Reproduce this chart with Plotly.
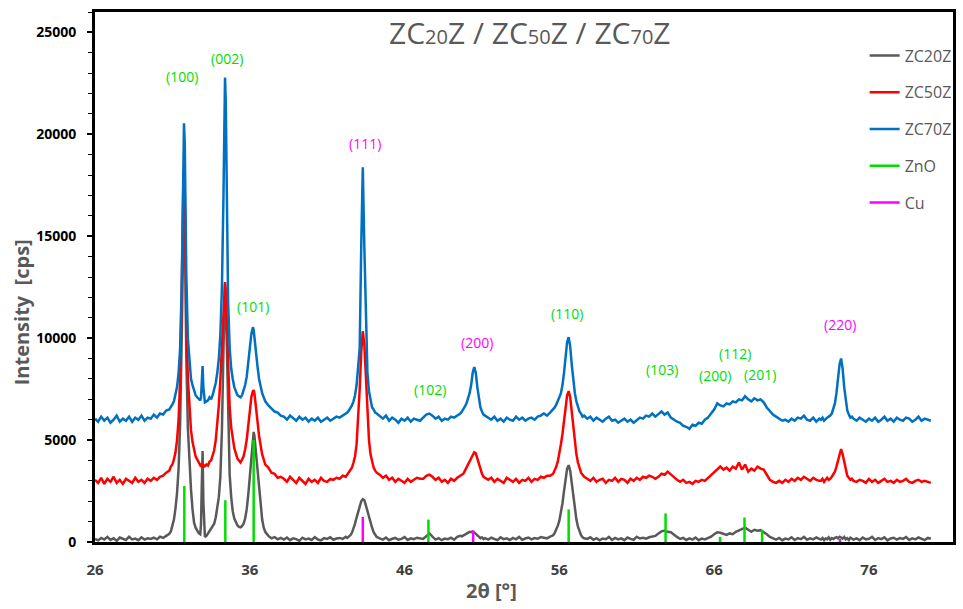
import plotly.graph_objects as go

# ---------------------------------------------------------------------------
# XRD scans: shared 2-theta sampling (degrees), split by angular region
# ---------------------------------------------------------------------------
two_theta_r1 = [26.0, 26.2, 26.4, 26.6, 26.8, 27.0, 27.2, 27.4, 27.6, 27.8, 28.0, 28.2,
                28.4, 28.6, 28.8, 29.0, 29.2, 29.4, 29.6, 29.8, 30.0, 30.2, 30.4, 30.6]
two_theta_r2 = [30.8, 30.9, 31.0, 31.1, 31.2, 31.3, 31.4, 31.5, 31.6, 31.65,
                31.7, 31.75, 31.8, 31.85, 31.9, 32.0, 32.1, 32.2, 32.3, 32.4,
                32.5, 32.6, 32.7, 32.8, 32.85, 32.9, 32.95, 33.0, 33.05, 33.1,
                33.2, 33.3, 33.4, 33.5, 33.6, 33.7, 33.8, 33.9, 34.0, 34.1,
                34.2, 34.3, 34.35, 34.4, 34.45, 34.5, 34.55, 34.6, 34.7, 34.8,
                34.9, 35.0, 35.1, 35.2, 35.3, 35.4, 35.5, 35.6, 35.7, 35.8,
                35.9, 36.0, 36.1, 36.2, 36.25, 36.3, 36.4, 36.5, 36.6, 36.7,
                36.8, 36.9, 37.0, 37.2, 37.4, 37.6, 37.8, 38.0]
two_theta_r3 = [38.2, 38.4, 38.6, 38.8, 39.0, 39.2, 39.4, 39.6, 39.8, 40.0, 40.2, 40.4,
                40.6, 40.8, 41.0, 41.2, 41.4, 41.6, 41.8, 42.0, 42.2,
                42.3, 42.4, 42.5, 42.6, 42.7, 42.8, 42.9, 43.0, 43.1, 43.2,
                43.3, 43.4, 43.5, 43.6, 43.7, 43.8, 43.9, 44.0, 44.1, 44.2,
                44.4, 44.6, 44.8, 45.0, 45.2, 45.4, 45.6, 45.8, 46.0, 46.2,
                46.4, 46.6, 46.8, 47.0]
two_theta_r4 = [47.2, 47.4, 47.6, 47.8, 48.0, 48.2, 48.4, 48.6, 48.8, 49.0, 49.2, 49.4, 49.6,
                49.7, 49.8, 49.9, 50.0, 50.1, 50.2, 50.3, 50.4, 50.5, 50.6, 50.7, 50.8,
                50.9, 51.0, 51.1, 51.2,
                51.4, 51.6, 51.8, 52.0, 52.2, 52.4, 52.6, 52.8, 53.0, 53.2, 53.4,
                53.6, 53.8, 54.0, 54.2, 54.4, 54.6, 54.8, 55.0, 55.2, 55.4, 55.6,
                55.7, 55.8, 55.9, 56.0, 56.1, 56.2, 56.3, 56.4, 56.5, 56.6,
                56.7, 56.8, 56.9, 57.0, 57.1, 57.2, 57.3, 57.4, 57.5, 57.6,
                57.8, 58.0, 58.2, 58.4, 58.6, 58.8, 59.0, 59.2, 59.4, 59.6, 59.8,
                60.0, 60.2, 60.4, 60.6, 60.8, 61.0, 61.2, 61.4, 61.6, 61.8, 62.0]
two_theta_r5 = [62.2, 62.4, 62.6, 62.8, 63.0, 63.2, 63.4, 63.6, 63.8, 64.0,
                64.2, 64.4, 64.6, 64.8, 65.0, 65.2, 65.4, 65.6, 65.8, 66.0,
                66.2, 66.4, 66.6, 66.8, 67.0, 67.2, 67.4, 67.6, 67.8, 68.0,
                68.2, 68.4, 68.6, 68.8, 69.0, 69.2, 69.4, 69.6, 69.8, 70.0,
                70.2, 70.4, 70.6, 70.8, 71.0, 71.2, 71.4, 71.6, 71.8, 72.0,
                72.2, 72.4, 72.6, 72.8,
                72.9, 73.0, 73.1, 73.2, 73.3, 73.4, 73.5, 73.6, 73.7, 73.8, 73.9,
                74.0, 74.1, 74.2, 74.3, 74.4, 74.5, 74.6, 74.7, 74.8, 74.9, 75.0,
                75.2, 75.4, 75.6, 75.8, 76.0, 76.2, 76.4, 76.6, 76.8, 77.0, 77.2,
                77.4, 77.6, 77.8, 78.0, 78.2, 78.4, 78.6, 78.8, 79.0, 79.2, 79.4,
                79.6, 79.8, 80.0]

# ZC20Z intensity (cps)
zc20z_r1 = [150, 80, 200, 120, 250, 100, 180, 60, 220, 140, 100, 260, 130, 170, 90, 230,
            120, 180, 150, 210, 130, 260, 200, 300]
zc20z_r2 = [400, 520, 760, 1100, 1650, 2400, 3600, 5800, 10000, 13500,
            16500, 17500, 16000, 12500, 9000, 5600, 3800, 2600, 1600, 950,
            700, 520, 430, 380, 900, 2800, 4460, 2000, 550, 250,
            300, 420, 500, 600, 750, 900, 1200, 1600, 2200, 3200,
            5500, 9500, 12000, 12600, 12000, 10000, 7500, 5500, 3300, 2200,
            1500, 1150, 950, 820, 740, 720, 780, 900, 1150, 1600,
            2300, 3200, 4400, 5250, 5400, 5200, 4400, 3400, 2500, 1700,
            1100, 700, 500, 300, 180, 240, 130, 200]
zc20z_r3 = [120, 220, 90, 180, 140, 60, 210, 130, 170, 100, 240, 120, 80, 190, 150, 230,
            110, 170, 200, 150, 260,
            200, 260, 330, 450, 650, 900, 1200, 1500, 1800, 2000,
            2100, 2050, 1800, 1500, 1250, 1000, 700, 480, 330, 250,
            180, 120, 220, 90, 160, 200, 110, 150, 240, 100, 180, 140, 210, 170]
zc20z_r4 = [150, 280, 430, 260, 120, 190, 90, 170, 140, 210, 110, 250, 300,
            280, 330, 380, 420, 460, 500, 480, 520, 470, 400, 320, 250, 190, 230, 140, 190,
            120, 210, 160, 90, 230, 140, 180, 100, 200, 130, 250, 110, 170, 220, 130,
            190, 160, 240, 210, 180, 260, 330,
            450, 600, 800, 1050, 1400, 1900, 2500, 3100, 3600, 3770,
            3500, 2900, 2200, 1600, 1100, 750, 500, 330, 230, 180,
            150, 230, 110, 190, 80, 170, 140, 250, 100, 200, 130, 180, 90, 220, 150,
            110, 260, 170, 210, 160, 230, 260]
zc20z_r5 = [300, 420, 520, 560, 500, 480, 350, 250, 150, 200,
            100, 180, 120, 220, 90, 170, 130, 200, 260, 380,
            480, 450, 400, 350, 420, 380, 500, 560, 650, 700,
            600, 500, 600, 550, 580, 500, 380, 250, 180, 120,
            200, 90, 170, 130, 230, 100, 190, 140, 250, 110,
            180, 130, 220, 150,
            120, 200, 90, 170, 140, 230, 110, 190, 150, 200, 240,
            180, 260, 220, 170, 250, 130, 190, 100, 210, 150, 120,
            180, 90, 220, 130, 160, 250, 100, 190, 140, 230, 80, 170,
            210, 120, 190, 150, 240, 100, 180, 130, 220, 150, 90, 200, 160]

# ZC50Z intensity (cps)
zc50z_r1 = [3050, 2900, 3150, 2850, 3100, 2950, 3200, 2900, 3050, 2850, 3100, 3000,
            2900, 3150, 2950, 3050, 2900, 3100, 3000, 3150, 3050, 3200, 3250, 3400]
zc50z_r2 = [3500, 3700, 3800, 4050, 4400, 5000, 6000, 8000, 11500, 14500,
            17200, 18200, 17000, 14000, 11000, 8000, 6500, 5500, 4900, 4500,
            4200, 4050, 3900, 3800, 3700, 3850, 3750, 3650, 3800, 3700,
            3800, 3750, 3950, 4000, 4250, 4500, 5000, 5700, 6700, 8000,
            9800, 11800, 12500, 12750, 12300, 11000, 9500, 8200, 6600, 5600,
            5000, 4600, 4350, 4100, 4000, 3900, 4050, 4200, 4550, 5000,
            5700, 6500, 7100, 7400, 7450, 7300, 6700, 5900, 5200, 4700,
            4300, 4050, 3800, 3650, 3400, 3350, 3150, 3200]
zc50z_r3 = [3100, 2950, 3200, 3050, 2900, 3150, 3000, 2850, 3100, 2950, 3050, 2900,
            3150, 3000, 2950, 3100, 3050, 3150, 3100, 3250, 3200,
            3300, 3400, 3500, 3650, 3900, 4200, 4800, 5900, 7500, 9300,
            10340, 9700, 8000, 6200, 5000, 4300, 3900, 3650, 3500, 3400,
            3300, 3150, 3250, 3050, 3150, 2950, 3100, 3000, 2900, 3100, 2950, 3050, 3150, 3100]
zc50z_r4 = [3100, 3250, 3300, 3200, 3050, 3150, 2950, 3050, 2900, 3100, 3000, 3150, 3250,
            3300, 3350, 3500, 3650, 3800, 3950, 4150, 4300, 4400, 4350, 4100, 3800,
            3500, 3350, 3200, 3150,
            3050, 3150, 2950, 3100, 3000, 2900, 3150, 3050, 2950, 3100, 2900,
            3050, 3000, 3150, 2950, 3100, 3050, 3200, 3150, 3250, 3250, 3350,
            3500, 3700, 3950, 4300, 4800, 5300, 6000, 6700, 7200, 7400,
            7100, 6400, 5600, 4900, 4300, 3900, 3600, 3400, 3300, 3200,
            3100, 3000, 3150, 2950, 3050, 3100, 2900, 3050, 3000, 3150, 2950,
            3100, 3050, 2900, 3100, 3000, 3150, 3050, 3200, 3150, 3250, 3200]
zc50z_r5 = [3100, 3200, 3350, 3300, 3450, 3300, 3150, 3050, 2950, 3050,
            2900, 2950, 2850, 3000, 2950, 3050, 3000, 3150, 3250, 3450,
            3600, 3700, 3550, 3650, 3500, 3700, 3600, 3900, 3550, 3800,
            3450, 3600, 3500, 3700, 3600, 3550, 3300, 3050, 2950, 2900,
            3000, 2900, 3050, 2950, 3100, 3000, 3150, 3050, 3200, 3100,
            3000, 3150, 3050, 3000,
            3000, 3100, 2950, 3050, 3150, 3050, 3100, 3200, 3300, 3450, 3700,
            4000, 4350, 4560, 4300, 3900, 3500, 3250, 3150, 3050, 3100, 3000,
            2950, 3050, 3000, 2900, 3100, 2950, 3050, 2900, 3000, 3100, 2950,
            3000, 2900, 3050, 2950, 3000, 3100, 2950, 2900, 3000, 3050, 2950,
            3000, 2950, 2900]

# ZC70Z intensity (cps)
zc70z_r1 = [6050, 5900, 6150, 5950, 6100, 5850, 6000, 6200, 5900, 6050, 5950, 6150,
            5900, 6100, 6000, 6200, 5950, 6100, 6050, 6250, 6100, 6300, 6250, 6450]
zc70z_r2 = [6500, 6600, 6750, 6900, 7200, 7600, 8300, 9500, 12500, 15500,
            18800, 20540, 19500, 16500, 13000, 10000, 8700, 8000, 7700, 7400,
            7200, 7100, 7000, 6950, 7100, 7800, 8630, 7600, 7000, 6850,
            6900, 6950, 7100, 7000, 7200, 7500, 7800, 8300, 9000, 10200,
            12500, 17000, 20500, 22790, 21500, 18000, 14500, 11800, 9500, 8500,
            8000, 7600, 7400, 7200, 7150, 7100, 7200, 7400, 7700, 8100,
            8700, 9500, 10200, 10540, 10400, 10000, 9300, 8600, 8000, 7600,
            7300, 7100, 6900, 6700, 6550, 6400, 6350, 6200]
zc70z_r3 = [6150, 6000, 6200, 6050, 5950, 6150, 6000, 6100, 5900, 6050, 5950, 6100,
            5900, 6000, 6100, 5950, 6050, 6150, 6100, 6200, 6300,
            6350, 6450, 6550, 6700, 6900, 7200, 7700, 8500, 9500, 14500,
            18380, 14500, 10500, 8300, 7400, 6900, 6600, 6500, 6350, 6300,
            6150, 6050, 6200, 5950, 6100, 6000, 5850, 6050, 5950, 6100, 5900, 6050, 6000, 5950]
zc70z_r4 = [6100, 6250, 6300, 6200, 6050, 6150, 5950, 6050, 6000, 6150, 6100, 6200, 6300,
            6400, 6500, 6650, 6800, 7000, 7300, 7700, 8300, 8580, 8300, 7600, 7000,
            6600, 6400, 6250, 6200,
            6100, 6000, 6150, 5950, 6050, 5900, 6100, 6000, 5950, 6150, 6000,
            6100, 5950, 6050, 6100, 6000, 6150, 6200, 6300, 6200, 6350, 6500,
            6600, 6750, 6900, 7100, 7300, 7700, 8300, 9100, 9800, 10050,
            9600, 8700, 7900, 7300, 6900, 6600, 6400, 6300, 6150, 6200,
            6050, 6150, 5950, 6100, 6000, 5900, 6050, 6150, 5950, 6000, 5850,
            5950, 6050, 5900, 6000, 5850, 6000, 6100, 6050, 6200, 6150, 6300]
zc70z_r5 = [6150, 6300, 6400, 6250, 6350, 6100, 6000, 5900, 5850, 5700,
            5650, 5550, 5750, 5700, 5850, 5800, 6000, 6100, 6300, 6500,
            6800, 6700, 6650, 6800, 6750, 6900, 6850, 7000, 6950, 7150,
            7000, 6900, 7050, 6950, 7000, 6850, 6600, 6400, 6250, 6150,
            6050, 5950, 6000, 5900, 6050, 5950, 6100, 6050, 6200, 6000,
            5950, 6100, 5900, 6050,
            6000, 6100, 5950, 6050, 6100, 6150, 6200, 6300, 6500, 6800, 7300,
            8000, 8700, 9000, 8500, 7600, 6900, 6450, 6250, 6100, 6150, 6050,
            5950, 6100, 6000, 5900, 6050, 5950, 6100, 5900, 6000, 6150, 5950,
            6050, 5900, 6100, 6000, 5950, 6100, 6050, 5900, 6000, 6150, 5950,
            6050, 6000, 5950]

# Reference patterns (stick positions and heights)
zno_2theta = [31.77, 34.42, 36.25, 47.54, 56.60, 62.86, 66.38, 67.96, 69.10]
zno_height = [2750, 2050, 5000, 1100, 1600, 1400, 250, 1200, 600]
cu_2theta = [43.30, 50.43, 74.13]
cu_height = [1230, 560, 150]

# Reflection labels
zno_hkl = ["(100)", "(002)", "(101)", "(102)", "(110)", "(103)", "(200)", "(112)", "(201)"]
zno_label_x = [31.6, 34.55, 36.22, 47.61, 56.48, 62.66, 66.06, 67.35, 68.96]
zno_label_y = [22840, 23730, 11570, 7500, 11230, 8480, 8190, 9260, 8240]
cu_hkl = ["(111)", "(200)", "(220)"]
cu_label_x = [43.43, 50.69, 74.1]
cu_label_y = [19560, 9800, 10690]

x_ticks = [26, 36, 46, 56, 66, 76]
y_ticks = [0, 5000, 10000, 15000, 20000, 25000]

# ---------------------------------------------------------------------------
two_theta = two_theta_r1 + two_theta_r2 + two_theta_r3 + two_theta_r4 + two_theta_r5
zc20z = zc20z_r1 + zc20z_r2 + zc20z_r3 + zc20z_r4 + zc20z_r5
zc50z = zc50z_r1 + zc50z_r2 + zc50z_r3 + zc50z_r4 + zc50z_r5
zc70z = zc70z_r1 + zc70z_r2 + zc70z_r3 + zc70z_r4 + zc70z_r5
for name, arr in (("zc20z", zc20z), ("zc50z", zc50z), ("zc70z", zc70z)):
    assert len(arr) == len(two_theta), (name, len(arr), len(two_theta))

GREY = "#595959"
RED = "#ff0000"
BLUE = "#0070c0"
GREEN = "#00dd00"
MAGENTA = "#ff00ff"
FONT = "Open Sans"


def sticks(pos, hgt):
    xs, ys = [], []
    for p, h in zip(pos, hgt):
        xs += [p, p, None]
        ys += [0, h, None]
    return xs, ys


fig = go.Figure()
# samples drawn in series order, so later scans sit on top
fig.add_trace(go.Scatter(x=two_theta, y=zc20z, mode="lines", name="ZC20Z",
                         line=dict(color=GREY, width=2.5), legendrank=1, legendgroup="a"))
fig.add_trace(go.Scatter(x=two_theta, y=zc50z, mode="lines", name="ZC50Z",
                         line=dict(color=RED, width=2.5), legendrank=2, legendgroup="b"))
fig.add_trace(go.Scatter(x=two_theta, y=zc70z, mode="lines", name="ZC70Z",
                         line=dict(color=BLUE, width=2.5), legendrank=3, legendgroup="c"))
zx, zy = sticks(zno_2theta, zno_height)
fig.add_trace(go.Scatter(x=zx, y=zy, mode="lines", name="ZnO",
                         line=dict(color=GREEN, width=2.5), legendrank=4, legendgroup="d"))
cx, cy = sticks(cu_2theta, cu_height)
fig.add_trace(go.Scatter(x=cx, y=cy, mode="lines", name="Cu",
                         line=dict(color=MAGENTA, width=2.5), legendrank=5, legendgroup="e"))

for t, x, y in zip(zno_hkl, zno_label_x, zno_label_y):
    fig.add_annotation(x=x, y=y, text=t, showarrow=False,
                       font=dict(family=FONT, size=14, color=GREEN))
for t, x, y in zip(cu_hkl, cu_label_x, cu_label_y):
    fig.add_annotation(x=x, y=y, text=t, showarrow=False,
                       font=dict(family=FONT, size=14, color=MAGENTA))

# title and axis titles
sub = "<span style='font-size:20px'>{}</span>"
fig.add_annotation(xref="paper", yref="paper", x=0.5075, y=0.962,
                   text="ZC" + sub.format("20") + "Z / ZC" + sub.format("50") +
                        "Z / ZC" + sub.format("70") + "Z",
                   showarrow=False, xanchor="center", yanchor="middle",
                   font=dict(family=FONT, size=30, color=GREY))
fig.add_annotation(xref="paper", yref="paper", x=-0.0847, y=0.434,
                   text="Intensity\u00a0 [cps]", textangle=-90, showarrow=False,
                   xanchor="center", yanchor="middle",
                   font=dict(family=FONT, size=20, color=GREY, weight="bold"))
fig.add_annotation(xref="paper", yref="paper", x=0.4617, y=-0.0906,
                   text="2θ [°]", showarrow=False, xanchor="center", yanchor="middle",
                   font=dict(family=FONT, size=20, color=GREY, weight="bold"))

fig.update_xaxes(range=[26, 81.43], tickvals=x_ticks, ticks="", showgrid=False,
                 zeroline=False, showline=True, linecolor="black", linewidth=3,
                 mirror=True, layer="below traces", ticklabelstandoff=12,
                 tickfont=dict(family=FONT, size=15, color="#404040", weight="bold"))
fig.update_yaxes(range=[0, 26000], tickvals=y_ticks, tickformat="d",
                 ticks="outside", ticklen=5,
                 tickwidth=1.5, tickcolor="black", showgrid=False, zeroline=False,
                 showline=True, linecolor="black", linewidth=3, mirror=True,
                 layer="below traces", ticklabelstandoff=8,
                 minor=dict(dtick=1000, ticks="outside", ticklen=4, tickwidth=1.2,
                            tickcolor="black"),
                 tickfont=dict(family=FONT, size=14, color="black", weight="bold"))

fig.update_layout(
    width=963, height=609,
    margin=dict(l=95, r=6, t=12, b=67),
    paper_bgcolor="white", plot_bgcolor="white",
    font=dict(family=FONT),
    showlegend=True,
    legend=dict(x=0.897, y=0.95, xanchor="left", yanchor="top",
                bgcolor="rgba(0,0,0,0)", tracegroupgap=13,
                font=dict(family=FONT, size=16, color=GREY)),
)

fig.write_html("out.html")
